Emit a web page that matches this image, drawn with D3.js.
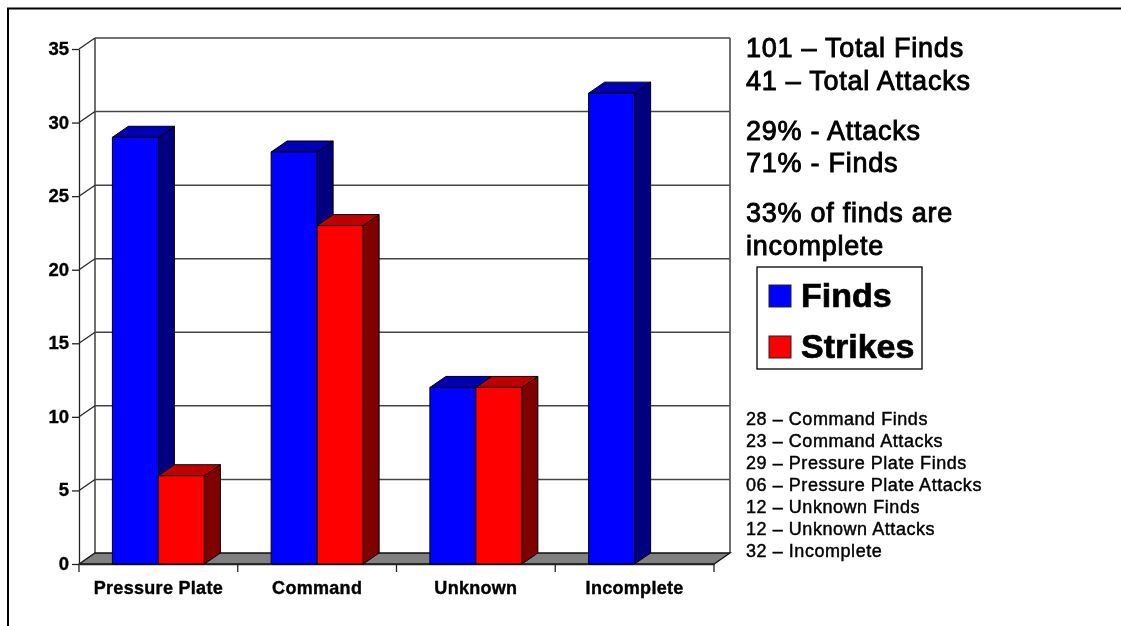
<!DOCTYPE html>
<html><head><meta charset="utf-8">
<script src="https://cdn.jsdelivr.net/npm/d3@7"></script>
<style>
html,body{margin:0;padding:0;background:#fff;overflow:hidden}
svg{display:block}
text{font-family:"Liberation Sans",Arial,sans-serif;fill:#000}
</style></head><body>
<svg id="c" width="1121" height="626"></svg>
<script>
const categories = ["Pressure Plate","Command","Unknown","Incomplete"];
const seriesNames = ["Finds","Strikes"];
const finds = [29,28,12,32];
const strikes = [6,23,12,null];
const yTicks = [0,5,10,15,20,25,30,35];
const summaryLines = ["101 – Total Finds","41 – Total Attacks","29% - Attacks","71% - Finds","33% of finds are","incomplete"];
const detailLines = ["28 – Command Finds","23 – Command Attacks","29 – Pressure Plate Finds","06 – Pressure Plate Attacks","12 – Unknown Finds","12 – Unknown Attacks","32 – Incomplete"];

const svg = d3.select("#c");
const defs = svg.append("defs");
defs.append("filter").attr("id","soft").append("feGaussianBlur").attr("stdDeviation",0.45);
defs.append("filter").attr("id","softer").append("feGaussianBlur").attr("stdDeviation",0.3);

const L=79,R=714,T=49,B=564,DX=16,DY=-11;
const y = d3.scaleLinear().domain([0,35]).range([B,T]);
const x0 = d3.scaleBand().domain(categories).range([L,R]);
const x1 = d3.scaleBand().domain(seriesNames).range([0,x0.bandwidth()]).paddingInner(0).paddingOuter(0.726);
const labelFont = '"Liberation Sans",Arial,sans-serif';

// page frame
svg.append("path").attr("d","M8,626V8.5H1121").attr("fill","none").attr("stroke","#000").attr("stroke-width",2);

const chart = svg.append("g").attr("filter","url(#softer)");
// back wall & gridlines
chart.append("g").selectAll("line").data(yTicks.slice(1)).join("line")
  .attr("x1",L+DX).attr("x2",R+DX).attr("y1",d=>y(d)+DY).attr("y2",d=>y(d)+DY)
  .attr("stroke","#444").attr("stroke-width",1.5);
chart.append("line").attr("x1",L+DX).attr("x2",L+DX).attr("y1",y(35)+DY).attr("y2",y(0)+DY).attr("stroke","#555").attr("stroke-width",1.7);
chart.append("line").attr("x1",R+DX).attr("x2",R+DX).attr("y1",y(35)+DY).attr("y2",y(0)+DY).attr("stroke","#555").attr("stroke-width",1.7);
// side wall connectors
chart.append("g").selectAll("line").data(yTicks.slice(1)).join("line")
  .attr("x1",L).attr("x2",L+DX).attr("y1",d=>y(d)).attr("y2",d=>y(d)+DY)
  .attr("stroke","#222").attr("stroke-width",1.2);
// floor
chart.append("path")
  .attr("d",`M${L},${B}L${R},${B}L${R+DX},${B+DY}L${L+DX},${B+DY}Z`)
  .attr("fill","#808080").attr("stroke","#111").attr("stroke-width",1.3);

// axes
const yAxis = chart.append("g").attr("transform",`translate(${L},0)`)
  .call(d3.axisLeft(y).tickValues(yTicks).tickSize(7).tickPadding(3).tickSizeOuter(0));
yAxis.selectAll("text").attr("font-size",18.5).attr("font-weight","bold").attr("dy","0.3em").attr("stroke","#000").attr("stroke-width",0.35).style("font-family",labelFont);
yAxis.selectAll("line,path").attr("stroke","#222").attr("stroke-width",1.3);

const xAxis = chart.append("g").attr("transform",`translate(0,${B})`)
  .call(d3.axisBottom(x0).tickSize(0).tickPadding(17));
xAxis.select("path").attr("stroke","#222").attr("stroke-width",1.3);
xAxis.selectAll("text").attr("font-size",18).attr("font-weight","bold").attr("letter-spacing",0.3).attr("stroke","#000").attr("stroke-width",0.4).style("font-family",labelFont);
chart.append("g").selectAll("line").data(d3.range(categories.length+1)).join("line")
  .attr("x1",i=>L+i*x0.step()).attr("x2",i=>L+i*x0.step()).attr("y1",B).attr("y2",B+8)
  .attr("stroke","#222").attr("stroke-width",1.3);

// 3-D bars
const palette = {Finds:{front:"#0000ff",top:"#0000b4",side:"#000080"},Strikes:{front:"#ff0000",top:"#c00000",side:"#800000"}};
const bars = [];
categories.forEach((c,i)=>{
  [["Finds",finds[i]],["Strikes",strikes[i]]].forEach(([s,v])=>{ if(v!=null) bars.push({c,s,v}); });
});
const bg = chart.append("g").selectAll("g").data(bars).join("g").attr("stroke","#000").attr("stroke-width",1).attr("stroke-linejoin","round");
const X=d=>x0(d.c)+x1(d.s), W=x1.bandwidth();
bg.append("path").attr("fill",d=>palette[d.s].side)
  .attr("d",d=>`M${X(d)+W},${y(d.v)}L${X(d)+W+DX},${y(d.v)+DY}L${X(d)+W+DX},${B+DY}L${X(d)+W},${B}Z`);
bg.append("path").attr("fill",d=>palette[d.s].top)
  .attr("d",d=>`M${X(d)},${y(d.v)}L${X(d)+DX},${y(d.v)+DY}L${X(d)+W+DX},${y(d.v)+DY}L${X(d)+W},${y(d.v)}Z`);
bg.append("rect").attr("fill",d=>palette[d.s].front)
  .attr("x",X).attr("width",W).attr("y",d=>y(d.v)).attr("height",d=>B-y(d.v));

// summary text
const sumY=[57,90,140,172,222,255];
svg.append("g").attr("filter","url(#soft)").selectAll("text").data(summaryLines).join("text")
  .attr("x",746).attr("y",(d,i)=>sumY[i]).attr("font-size",27).attr("letter-spacing",0.75).attr("stroke","#000").attr("stroke-width",0.9).text(d=>d);

// legend
const lg = svg.append("g");
lg.append("rect").attr("x",757).attr("y",267).attr("width",165).attr("height",102).attr("fill","#fff").attr("stroke","#000").attr("stroke-width",1.3);
const legY=[296,347];
lg.selectAll("rect.s").data(seriesNames).join("rect").attr("class","s")
  .attr("x",769).attr("y",(d,i)=>legY[i]-11).attr("width",22).attr("height",22)
  .attr("fill",d=>palette[d].front).attr("stroke","#222");
lg.selectAll("text").data(seriesNames).join("text")
  .attr("x",801).attr("y",(d,i)=>legY[i]+11).attr("font-size",34).attr("font-weight","bold").attr("stroke","#000").attr("stroke-width",0.7).attr("filter","url(#soft)").text(d=>d);

// detail list
svg.append("g").attr("filter","url(#soft)").selectAll("text").data(detailLines).join("text")
  .attr("x",746).attr("y",(d,i)=>425+i*22).attr("font-size",18).attr("letter-spacing",0.55).attr("stroke","#000").attr("stroke-width",0.45).text(d=>d);
</script></body></html>
